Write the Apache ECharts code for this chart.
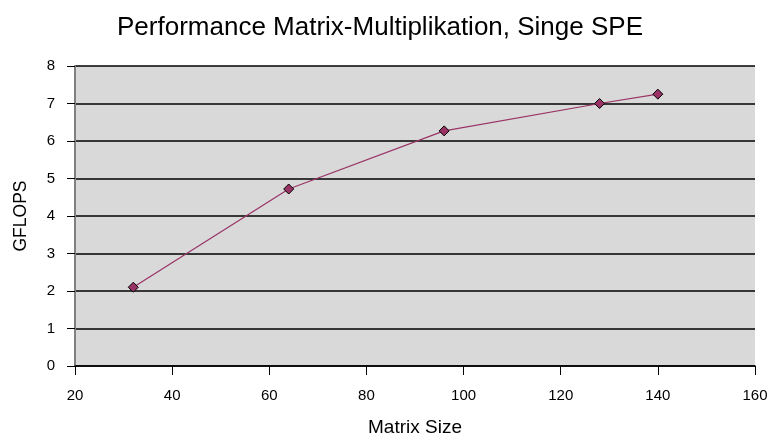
<!DOCTYPE html>
<html>
<head>
<meta charset="utf-8">
<script src="https://cdn.jsdelivr.net/npm/echarts@6/dist/echarts.min.js"></script>
<style>html,body{margin:0;padding:0;background:#fff}#c{width:768px;height:437px}</style>
</head>
<body>
<div id="c"></div>
<script>
var titleText = 'Performance Matrix-Multiplikation, Singe SPE';
var xName = 'Matrix Size';
var yName = 'GFLOPS';
var matrixSizes = [32, 64, 96, 128, 140];
var gflops = [2.1, 4.72, 6.27, 7.0, 7.25];

var chart = echarts.init(document.getElementById('c'), null, {renderer: 'canvas'});
var font = 'Liberation Sans, Arial, sans-serif';
chart.setOption({
  animation: false,
  backgroundColor: '#ffffff',
  title: {
    text: titleText, left: 375, top: 10, textAlign: 'center',
    textStyle: {fontFamily: font, fontSize: 26, fontWeight: 'normal', color: '#000'}
  },
  grid: {left: 75, right: 13, top: 66, bottom: 71, show: true, backgroundColor: '#d9d9d9', borderWidth: 0,
         containLabel: false, outerBoundsMode: 'none'},
  xAxis: {
    type: 'value', min: 20, max: 160, interval: 20,
    name: xName, nameLocation: 'middle', nameGap: 52,
    nameTextStyle: {fontFamily: font, fontSize: 19, color: '#000'},
    axisLine: {show: true, lineStyle: {color: '#000', width: 1.5}},
    axisTick: {show: true, inside: false, length: 9, lineStyle: {color: '#000'}},
    axisLabel: {fontFamily: font, fontSize: 15, color: '#000', margin: 22},
    splitLine: {show: false}
  },
  yAxis: {
    type: 'value', min: 0, max: 8, interval: 1,
    name: yName, nameLocation: 'middle', nameGap: 45, nameRotate: 90,
    nameTextStyle: {fontFamily: font, fontSize: 17.5, color: '#000'},
    axisLine: {show: true, lineStyle: {color: '#808080', width: 2}},
    axisTick: {show: true, inside: false, length: 8, lineStyle: {color: '#000'}},
    axisLabel: {fontFamily: font, fontSize: 15, color: '#000', margin: 20},
    splitLine: {show: true, lineStyle: {color: '#000', width: 1.5}}
  },
  series: [{
    type: 'line',
    data: matrixSizes.map(function (x, i) { return [x, gflops[i]]; }),
    symbol: 'diamond', symbolSize: 10,
    lineStyle: {color: '#993366', width: 1.2},
    itemStyle: {color: '#993366', borderColor: '#000', borderWidth: 1}
  }]
});
</script>
</body>
</html>
